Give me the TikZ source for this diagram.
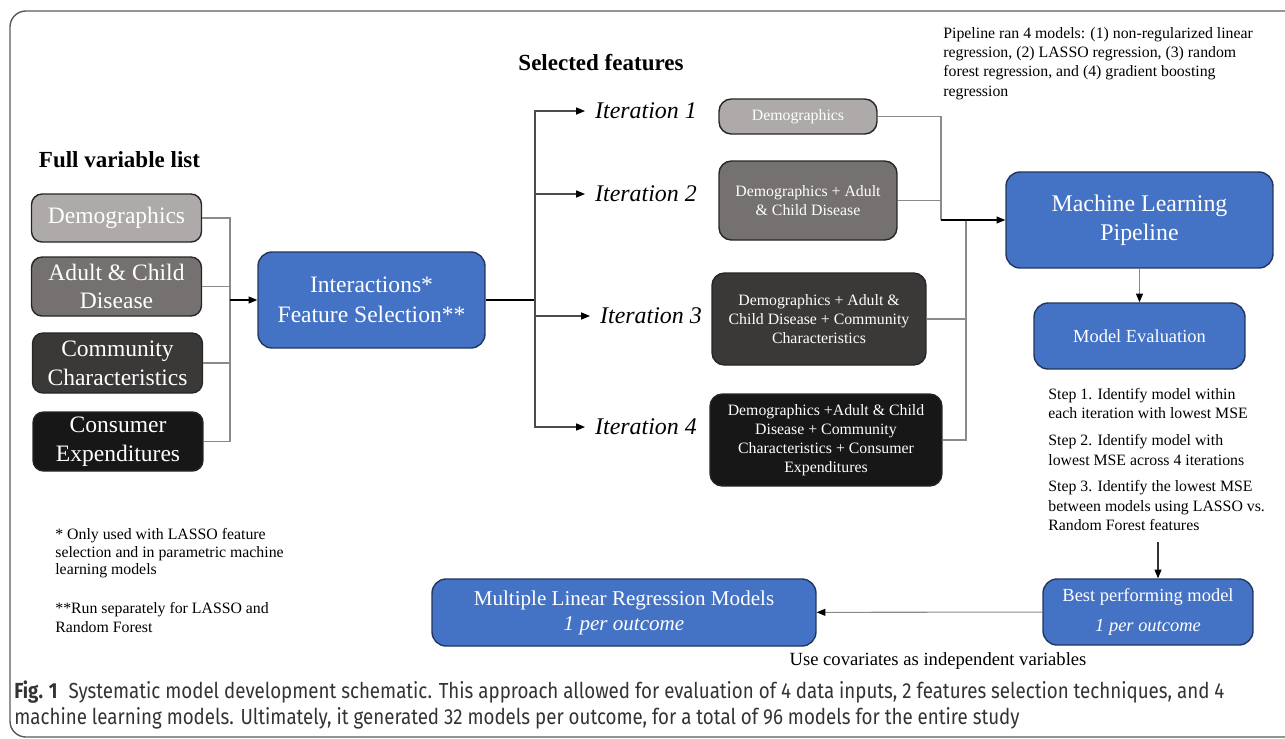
\documentclass[tikz,border=0pt]{standalone}
\usepackage{fontspec}
\setmainfont{Liberation Serif}
\newfontfamily\capfont[FakeStretch=0.86]{Fira Sans}
\usetikzlibrary{arrows.meta, positioning}
\definecolor{GrayA} {HTML}{ADAAA9}
\definecolor{GrayB} {HTML}{767171}
\definecolor{GrayC} {HTML}{3B3838}
\definecolor{GrayD} {HTML}{171717}
\definecolor{BlueF} {HTML}{4472C4}
\definecolor{BlueD} {HTML}{22365E}
\definecolor{LineG} {HTML}{8A8A8A}
\definecolor{Frame} {HTML}{5A5A5A}
\definecolor{CapT}  {HTML}{333333}
\tikzset{
  varbox/.style args={#1}{
    rectangle, rounded corners=6pt,
    draw=black!85, fill=#1, text=white,
    font=\fontsize{13.4}{16.4}\selectfont, align=center,
    inner sep=1pt, minimum width=3.4cm,
    line width=0.8pt,
  },
  itbox/.style args={#1}{
    rectangle, rounded corners=7pt,
    draw=black!85, fill=#1, text=white,
    font=\fontsize{9}{10.8}\selectfont, align=center,
    inner sep=2pt, line width=0.8pt,
  },
  bluebox/.style={
    rectangle, rounded corners=8pt,
    draw=BlueD, fill=BlueF, text=white,
    align=center, inner sep=2pt, line width=0.8pt,
  },
  hdr/.style={font=\fontsize{13.1}{15}\selectfont\bfseries},
  itlbl/.style={
    font=\fontsize{13.6}{16}\selectfont\itshape,
    anchor=west, inner xsep=5.6pt, inner ysep=0pt,
  },
  note/.style={
    font=\fontsize{9}{11}\selectfont, align=left, inner sep=0pt,
  },
  conn/.style={draw=LineG, line width=0.6pt},
  arr/.style args={#1}{
    -{Triangle[length=5pt,width=4pt,color=black]},
    line width=0.6pt, draw=#1,
  },
}

\begin{document}
\begin{tikzpicture}[x=0.02cm, y=-0.02cm]

    \useasboundingbox (0,0) rectangle (1285,738);
    \draw[Frame, line width=0.8pt, rounded corners=9pt] (10,11) rectangle (1330,737);

    % full variable list
    \node[hdr] (hfull) at (119.5,160) {Full variable list};
    \node[varbox=GrayA, minimum height=0.96cm] (vdem) at (116.5,218)   {Demographics};
    \node[varbox=GrayB, minimum height=1.18cm] (vadc) at (116.5,286.5) {Adult \& Child\\Disease};
    \node[varbox=GrayC, minimum height=1.20cm] (vcom) at (117.5,363)   {Community\\Characteristics};
    \node[varbox=GrayD, minimum height=1.18cm] (vcon) at (118,441.5)   {Consumer\\Expenditures};

    \node[bluebox, minimum width=4.54cm, minimum height=1.92cm,
          font=\fontsize{13.4}{17}\selectfont] (inter) at (371.5,300)
          {Interactions*\\Feature Selection**};

    % selected features
    \node[hdr] (hsel) at (601,63) {Selected features};
    \node[itlbl] (itl1) at (585,111) {Iteration 1};
    \node[itlbl] (itl2) at (585,194) {Iteration 2};
    \node[itlbl] (itl3) at (590,316) {Iteration 3};
    \node[itlbl] (itl4) at (585,427) {Iteration 4};

    \node[itbox=GrayA, minimum width=3.16cm, minimum height=0.70cm] (it1) at (798,116.5) {Demographics};
    \node[itbox=GrayB, minimum width=3.56cm, minimum height=1.58cm] (it2) at (808,200.5)
          {Demographics + Adult\\\& Child Disease};
    \node[itbox=GrayC, minimum width=4.28cm, minimum height=1.84cm] (it3) at (819,319)
          {Demographics + Adult \&\\Child Disease + Community\\Characteristics};
    \node[itbox=GrayD, minimum width=4.64cm, minimum height=1.84cm] (it4) at (826,440)
          {Demographics +Adult \& Child\\Disease + Community\\Characteristics + Consumer\\Expenditures};

    % pipeline side
    \node[note, anchor=north west] (pnote) at (943,27)
          {Pipeline ran 4 models: (1) non-regularized linear\\
           regression, (2) LASSO regression, (3) random\\
           forest regression, and (4) gradient boosting\\
           regression};
    \node[bluebox, minimum width=5.34cm, minimum height=1.92cm,
          font=\fontsize{13.6}{16.4}\selectfont] (ml) at (1139.5,220)
          {Machine Learning\\Pipeline};
    \node[bluebox, minimum width=4.22cm, minimum height=1.32cm,
          font=\fontsize{10.5}{13}\selectfont] (meval) at (1139.5,336) {Model Evaluation};
    \node[note, anchor=north west] (steps) at (1048,388)
          {Step 1. Identify model within\\
           each iteration with lowest MSE\\[4.3pt]
           Step 2. Identify model with\\
           lowest MSE across 4 iterations\\[4.3pt]
           Step 3. Identify the lowest MSE\\
           between models using LASSO vs.\\
           Random Forest features};
    \coordinate (sout) at (1158,542);
    \node[bluebox, minimum width=4.2cm, minimum height=1.32cm,
          font=\fontsize{10.5}{17}\selectfont] (best) at (1148,612)
          {Best performing model\\\textit{1 per outcome}};
    \node[bluebox, minimum width=7.68cm, minimum height=1.34cm,
          font=\fontsize{12}{14.2}\selectfont] (mlr) at (624,612.5)
          {Multiple Linear Regression Models\\\textit{1 per outcome}};
    \node[font=\fontsize{10.6}{12}\selectfont, inner sep=0pt] (cov) at (938,661)
          {Use covariates as independent variables};

    % footnotes
    \node[note, anchor=north west, font=\fontsize{9}{10}\selectfont] (fn1) at (55,528)
          {* Only used with LASSO feature\\
           selection and in parametric machine\\
           learning models};
    \node[note, anchor=north west, font=\fontsize{9}{11}\selectfont] (fn2) at (55,602)
          {**Run separately for LASSO and\\
           Random Forest};

    % caption
    \node[anchor=north west, align=left, inner sep=0pt, text=CapT,
          font=\capfont\fontsize{12.4}{15.3}\selectfont] (cap) at (14,680)
          {\textbf{Fig. 1}\enspace Systematic model development schematic. This approach allowed for evaluation of 4 data inputs, 2 features selection techniques, and 4\\
           machine learning models. Ultimately, it generated 32 models per outcome, for a total of 96 models for the entire study};

    % connectors
    \coordinate (lbus) at (230,300);
    \coordinate (rbus) at (535,300);
    \coordinate (jA) at (941,220);
    \coordinate (jB) at (966,220);
    \draw[conn] (vdem.east) -| (lbus);
    \draw[conn] (vadc.east) -| (lbus);
    \draw[conn] (vcom.east) -| (lbus);
    \draw[conn] (vcon.east) -| (lbus);
    \draw[arr=black] (lbus) -- (inter.west);
    \draw[black, line width=1.1pt] (inter.east) -- (rbus);
    \draw[arr=black!70] (rbus) |- (itl1);
    \draw[arr=black!70] (rbus) |- (itl2);
    \draw[arr=black!70] (rbus) |- (itl3);
    \draw[arr=black!70] (rbus) |- (itl4);
    \draw[conn] (it1.east) -| (jA);
    \draw[conn] (it2.east) -| (jA);
    \draw[conn] (it3.east) -| (jB);
    \draw[conn] (it4.east) -| (jB);
    \draw[arr=black] (jA) -- (ml.west);
    \draw[arr=LineG] (ml) -- (meval);
    \draw[arr=black!80] (sout) -- (sout |- best.north);
    \draw[arr=LineG] (best) -- (mlr);

\end{tikzpicture}
\end{document}
